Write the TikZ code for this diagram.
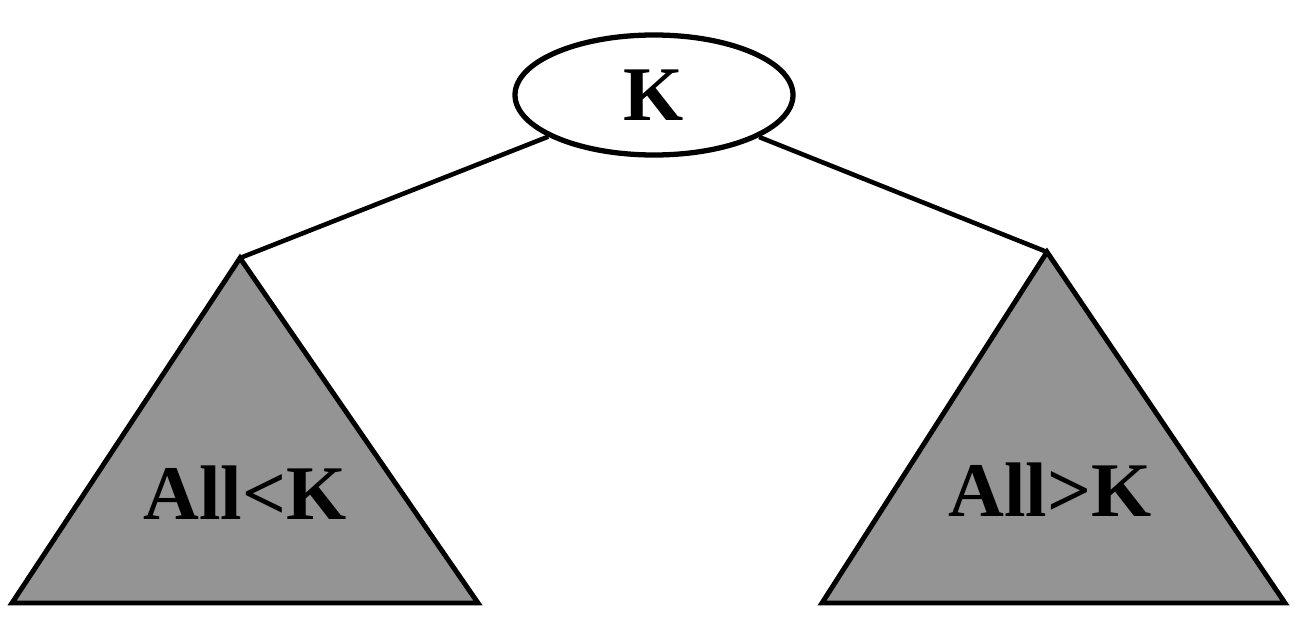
\documentclass[tikz,border=0pt]{standalone}
\usepackage{fontspec}
\setmainfont{Liberation Serif}
\usepackage{tikz}
\usetikzlibrary{shapes.geometric}

\begin{document}
\begin{tikzpicture}[every node/.style={font=\bfseries\fontsize{44}{44}\selectfont},
  subtree/.style={draw,line width=2.8pt,fill=black!42,line join=miter},
  edge/.style={line width=2.6pt}]
\useasboundingbox (0,0) rectangle (26.04,12.66);
\node[draw,ellipse,line width=3pt,minimum width=5.56cm,minimum height=2.4cm,inner sep=0pt] (root) at (13.08,10.76) {K};
\coordinate (lapex) at (4.8,7.5);
\coordinate (rapex) at (20.94,7.62);
\draw[subtree] (lapex) -- (0.24,0.6) -- (9.56,0.6) -- cycle;
\draw[subtree] (rapex) -- (16.44,0.6) -- (25.7,0.6) -- cycle;
\node (lt) at (4.9,2.8) {All<K};
\node (rt) at (21.0,2.86) {All>K};
\draw[edge] (root) -- (lapex); \draw[edge] (root) -- (rapex);
\end{tikzpicture}
\end{document}
